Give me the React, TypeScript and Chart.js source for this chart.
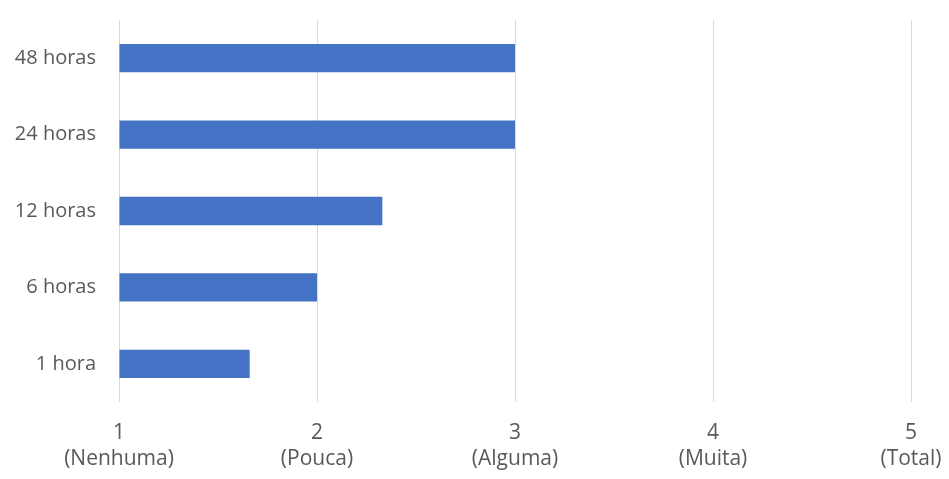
import React, { useEffect, useRef } from "react";
import { Chart, registerables } from "chart.js";

Chart.register(...registerables);

const categories = ["48 horas", "24 horas", "12 horas", "6 horas", "1 hora"];
const values = [3, 3, 2.33, 2, 1.66];
const tickNumbers = [1, 2, 3, 4, 5];
const tickNames = ["(Nenhuma)", "(Pouca)", "(Alguma)", "(Muita)", "(Total)"];

export default function App() {
  const ref = useRef<HTMLCanvasElement | null>(null);
  useEffect(() => {
    document.body.style.margin = "0";
    const ctx = ref.current!;
    const chart = new Chart(ctx, {
      type: "bar",
      data: {
        labels: categories,
        datasets: [
          {
            data: values,
            base: 1,
            backgroundColor: "#4472C4",
            categoryPercentage: 1,
            barPercentage: 0.37,
          } as any,
        ],
      },
      options: {
        indexAxis: "y",
        animation: false,
        responsive: false,
        layout: { padding: { top: 20, right: 38, left: 0, bottom: 4 } },
        plugins: { legend: { display: false }, tooltip: { enabled: false } },
        scales: {
          x: {
            min: 1,
            max: 5,
            afterBuildTicks: (scale: any) => {
              scale.ticks = tickNumbers.map((v) => ({ value: v }));
            },
            afterFit: (scale: any) => {
              scale.height = 73;
              scale.paddingLeft = 0;
              scale.paddingRight = 0;
            },
            grid: { color: "#d9d9d9", drawTicks: false },
            border: { display: false },
            ticks: {
              padding: 18,
              color: "#595959",
              font: { family: "'Open Sans', sans-serif", size: 21, lineHeight: 1.24 },
              maxRotation: 0,
              autoSkip: false,
              callback: (v: any) => {
                const i = tickNumbers.indexOf(Number(v));
                return i >= 0 ? [String(tickNumbers[i]), tickNames[i]] : "";
              },
            },
          },
          y: {
            grid: { display: false, drawTicks: false },
            border: { display: false },
            afterFit: (scale: any) => {
              scale.width = 119;
              scale.paddingTop = 0;
              scale.paddingBottom = 0;
            },
            ticks: {
              padding: 23,
              color: "#595959",
              font: { family: "'Open Sans', sans-serif", size: 20 },
            },
          },
        },
      },
    });
    return () => chart.destroy();
  }, []);
  return (
    <div style={{ position: "absolute", left: 0, top: 0, width: 949, height: 479, background: "#fff" }}>
      <canvas ref={ref} width={949} height={479} />
    </div>
  );
}
